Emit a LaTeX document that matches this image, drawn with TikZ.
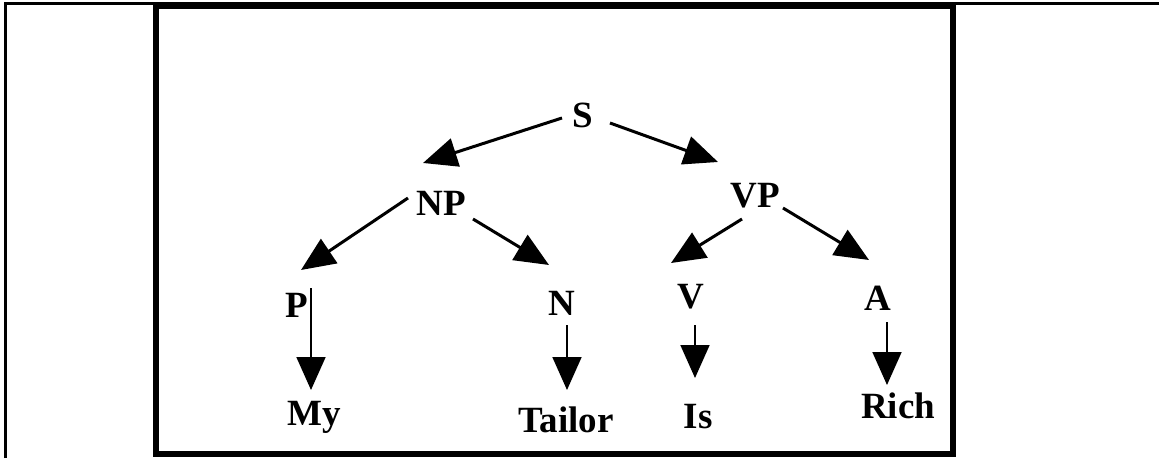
\documentclass[tikz,border=0pt]{standalone}
\usepackage{fontspec}
\setmainfont{Liberation Serif}
\usetikzlibrary{arrows.meta}
\begin{document}
\begin{tikzpicture}[x=1pt,y=-1pt,
  lbl/.style={anchor=base,inner sep=0pt,font=\bfseries\fontsize{37}{42}\selectfont},
  diag/.style={line width=3pt,-{Triangle[length=34pt,width=29pt]}},
  vert/.style={line width=1.8pt,-{Triangle[length=33pt,width=29pt]}}]
\useasboundingbox (0,0) rectangle (1159,458);
% frames
\draw[line width=3pt] (5.5,458) -- (5.5,3.5) -- (1159,3.5);
\draw[line width=6pt] (156,6) rectangle (953,454);
% labels
\node[lbl] (S) at (583,127) {S};
\node[lbl] (NP) at (441,215) {NP};
\node[lbl] (VP) at (755,207) {VP};
\node[lbl] (P) at (297,317) {P};
\node[lbl] (N) at (562,315) {N};
\node[lbl] (V) at (691,308) {V};
\node[lbl] (A) at (878,310) {A};
\node[lbl] (My) at (314,425) {My};
\node[lbl] (Tailor) at (566,432) {Tailor};
\node[lbl] (Is) at (698,428) {Is};
\node[lbl] (Rich) at (898,418) {Rich};
% connector ends
\coordinate (s1) at (562,118); \coordinate (t1) at (423,163);
\coordinate (s2) at (610,123); \coordinate (t2) at (718,162);
\coordinate (s3) at (408,198); \coordinate (t3) at (301,270);
\coordinate (s4) at (473,219); \coordinate (t4) at (549,265);
\coordinate (s5) at (742,219); \coordinate (t5) at (671,263);
\coordinate (s6) at (783,208); \coordinate (t6) at (869,260);
\coordinate (s7) at (311,288); \coordinate (t7) at (311,390);
\coordinate (s8) at (567,325); \coordinate (t8) at (567,390);
\coordinate (s9) at (695,325); \coordinate (t9) at (695,378);
\coordinate (s10) at (887,322); \coordinate (t10) at (887,385);
\draw[diag] (s1) -- (t1);
\draw[diag] (s2) -- (t2);
\draw[diag] (s3) -- (t3);
\draw[diag] (s4) -- (t4);
\draw[diag] (s5) -- (t5);
\draw[diag] (s6) -- (t6);
\draw[vert] (s7) -- (t7);
\draw[vert] (s8) -- (t8);
\draw[vert] (s9) -- (t9);
\draw[vert] (s10) -- (t10);
\end{tikzpicture}
\end{document}
